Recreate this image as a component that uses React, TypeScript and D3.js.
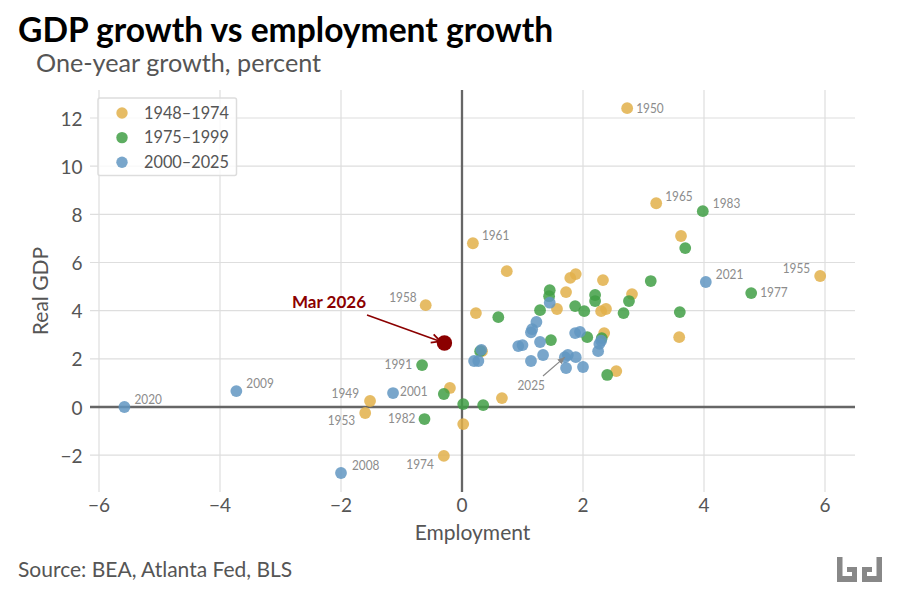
import * as d3 from 'd3';

// [employment growth, real GDP growth]
const era1: [number, number][] = [
  [2.73, 12.41], [3.21, 8.46], [3.62, 7.1], [0.18, 6.8], [0.74, 5.64], [1.79, 5.36], [1.88, 5.52],
  [2.33, 5.27], [1.72, 4.77], [2.81, 4.69], [5.92, 5.44], [-0.6, 4.23], [0.23, 3.9], [1.57, 4.07],
  [2.3, 3.98], [2.38, 4.07], [2.35, 3.07], [3.59, 2.9], [0.33, 2.32], [2.55, 1.49], [0.66, 0.37],
  [-0.2, 0.79], [-1.52, 0.25], [-1.6, -0.25], [0.02, -0.71], [-0.3, -2.03],
];
const era2: [number, number][] = [
  [3.98, 8.13], [3.69, 6.6], [3.12, 5.23], [1.45, 4.85], [1.44, 4.6], [2.2, 4.65], [2.2, 4.4],
  [2.76, 4.4], [1.29, 4.02], [1.87, 4.19], [2.02, 3.98], [2.67, 3.9], [3.6, 3.94], [4.78, 4.73],
  [0.6, 3.73], [1.47, 2.78], [2.07, 2.9], [2.31, 2.86], [0.3, 2.32], [2.4, 1.33], [-0.66, 1.74],
  [-0.3, 0.54], [0.02, 0.12], [0.35, 0.08], [-0.62, -0.5],
];
const era3: [number, number][] = [
  [4.03, 5.19], [1.45, 4.33], [1.23, 3.53], [1.16, 3.23], [1.14, 3.1], [1.87, 3.07], [1.95, 3.12],
  [2.3, 2.75], [2.27, 2.62], [0.93, 2.53], [1.0, 2.57], [1.29, 2.7], [1.34, 2.16], [1.14, 1.91],
  [1.7, 2.07], [1.75, 2.16], [1.88, 2.07], [1.72, 1.62], [2.0, 1.66], [2.25, 2.32], [0.2, 1.91],
  [0.27, 1.91], [0.32, 2.37], [-1.14, 0.58], [-3.73, 0.66], [-5.58, 0], [-2, -2.74],
];
const latest: [number, number] = [-0.29, 2.66];
const latestLabel = 'Mar 2026';

const legendLabels = ['1948–1974', '1975–1999', '2000–2025'];
const colors = ['#e2b04a', '#419f45', '#6196c2'];
const xTicks = [-6, -4, -2, 0, 2, 4, 6];
const yTicks = [-2, 0, 2, 4, 6, 8, 10, 12];

// year label, point it belongs to, pixel offset
const yearLabels: [string, [number, number], number, number, string][] = [
  ['1950', [2.73, 12.41], 9, 0, 'start'],
  ['1965', [3.21, 8.46], 9, -7, 'start'],
  ['1983', [3.98, 8.13], 10, -8, 'start'],
  ['1961', [0.18, 6.8], 9, -8, 'start'],
  ['1955', [5.92, 5.44], -10, -8, 'end'],
  ['1977', [4.78, 4.73], 9, -1, 'start'],
  ['2021', [4.03, 5.19], 10, -8, 'start'],
  ['1958', [-0.6, 4.23], -9, -8, 'end'],
  ['1991', [-0.66, 1.74], -10, -1, 'end'],
  ['2001', [-1.14, 0.58], 7, -2, 'start'],
  ['1949', [-1.52, 0.25], -11, -8, 'end'],
  ['1953', [-1.6, -0.25], -10, 7, 'end'],
  ['1982', [-0.62, -0.5], -9, -1, 'end'],
  ['1974', [-0.3, -2.03], -10, 8, 'end'],
  ['2008', [-2, -2.74], 11, -8, 'start'],
  ['2009', [-3.73, 0.66], 10, -8, 'start'],
  ['2020', [-5.58, 0], 10, -8, 'start'],
];

const x = d3.scaleLinear().domain([-6, 6]).range([99, 825]);
const y = d3.scaleLinear().domain([0, 12]).range([407, 118]);
const left = 90;
const right = 855;
const top = 90;
const bottom = 492;
const font = 'Lato, sans-serif';
const fmt = (d: number) => String(d).replace('-', '−');

export default function App() {
  const eras = [era1, era2, era3];
  const hx = x(latest[0]);
  const hy = y(latest[1]);
  return (
    <svg width={900} height={600} style={{ position: 'absolute', left: 0, top: 0, background: '#fff' }} fontFamily={font}>
      <defs>
        <marker id="head-red" viewBox="0 0 10 10" refX="9" refY="5" markerWidth="11" markerHeight="11" markerUnits="userSpaceOnUse" orient="auto">
          <path d="M1,1 L9,5 L1,9" fill="none" stroke="#8b0000" strokeWidth="1.6" />
        </marker>
        <marker id="head-grey" viewBox="0 0 10 10" refX="9" refY="5" markerWidth="8" markerHeight="8" markerUnits="userSpaceOnUse" orient="auto">
          <path d="M0,1 L9,5 L0,9 Z" fill="#888" />
        </marker>
      </defs>

      <text x={18} y={42} fontSize={33.6} fontWeight={700} fill="#000">GDP growth vs employment growth</text>
      <text x={36} y={72} fontSize={25.2} fill="#555">One-year growth, percent</text>

      {xTicks.map((d) => (
        <line key={d} x1={x(d)} x2={x(d)} y1={top} y2={bottom} stroke="#dedede" strokeWidth={1.2} />
      ))}
      {yTicks.map((d) => (
        <line key={d} x1={left} x2={right} y1={y(d)} y2={y(d)} stroke="#dedede" strokeWidth={1.2} />
      ))}
      <line x1={x(0)} x2={x(0)} y1={top} y2={bottom} stroke="#666" strokeWidth={2.3} />
      <line x1={left} x2={right} y1={y(0)} y2={y(0)} stroke="#666" strokeWidth={2.3} />

      {xTicks.map((d) => (
        <text key={d} x={x(d)} y={512} fontSize={19} fill="#555" textAnchor="middle">{fmt(d)}</text>
      ))}
      {yTicks.map((d) => (
        <text key={d} x={82.5} y={y(d)} fontSize={19} fill="#555" textAnchor="end" dominantBaseline="central">{fmt(d)}</text>
      ))}
      <text x={472.5} y={540} fontSize={21} fill="#555" textAnchor="middle">Employment</text>
      <text transform="translate(48,291) rotate(-90)" fontSize={21} fill="#555" textAnchor="middle">Real GDP</text>

      {eras.map((pts, i) =>
        pts.map((p, j) => (
          <circle key={`${i}-${j}`} cx={x(p[0])} cy={y(p[1])} r={5.9} fill={colors[i]} fillOpacity={0.85} />
        ))
      )}

      {yearLabels.map(([text, p, dx, dy, anchor]) => (
        <text key={text} x={x(p[0]) + dx} y={y(p[1]) + dy} fontSize={13.2} fill="#8c8c8c" textLength={27.5} lengthAdjust="spacingAndGlyphs" textAnchor={anchor as any} dominantBaseline="central">{text}</text>
      ))}
      <text x={545} y={385} fontSize={13.2} fill="#8c8c8c" textLength={27.5} lengthAdjust="spacingAndGlyphs" textAnchor="end" dominantBaseline="central">2025</text>
      <line x1={543} y1={376} x2={x(1.7)} y2={y(2.07)} stroke="#888" strokeWidth={1.2} markerEnd="url(#head-grey)" />

      <line x1={367} y1={315} x2={hx - 4} y2={hy - 1.5} stroke="#8b0000" strokeWidth={1.6} markerEnd="url(#head-red)" />
      <circle cx={hx} cy={hy} r={7.7} fill="#8b0000" />
      <text x={366} y={301} fontSize={17} fontWeight={700} fill="#8b0000" textAnchor="end" dominantBaseline="central">{latestLabel}</text>

      <rect x={98} y={98} width={138.5} height={77.5} rx={2} fill="#fff" fillOpacity={0.8} stroke="#dddddd" strokeWidth={1.5} />
      {legendLabels.map((l, i) => (
        <g key={l}>
          <circle cx={122} cy={113 + i * 24.6} r={5.7} fill={colors[i]} fillOpacity={0.85} />
          <text x={144} y={112 + i * 24.6} fontSize={17.5} fill="#555" textLength={85} lengthAdjust="spacingAndGlyphs" dominantBaseline="central">{l}</text>
        </g>
      ))}

      <text x={18} y={577} fontSize={21} fill="#555">Source: BEA, Atlanta Fed, BLS</text>

      <g fill="#888">
        <path d="M837,557 h5.5 v19 h9.5 v-4 h-5 v-5 h10 v15 h-20 Z" />
        <path d="M882,557 h-5.5 v19 h-9.5 v-4 h5 v-5 h-10 v15 h20 Z" />
      </g>
    </svg>
  );
}
